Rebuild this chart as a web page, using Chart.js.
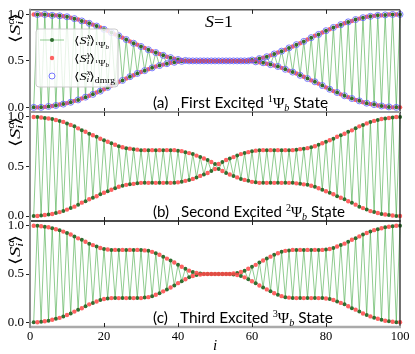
<!DOCTYPE html>
<html>
<head>
<meta charset="utf-8">
<script src="https://cdn.jsdelivr.net/npm/chart.js@4.4.1/dist/chart.umd.min.js"></script>
<style>
  html, body { margin: 0; padding: 0; background: #fff; }
  #wrap { position: relative; width: 415px; height: 354px; }
  #wrap canvas { position: absolute; left: 0; top: 0; }
</style>
</head>
<body>
<div id="wrap">
  <canvas id="panelA" width="415" height="354"></canvas>
  <canvas id="panelB" width="415" height="354"></canvas>
  <canvas id="panelC" width="415" height="354"></canvas>
</div>
<script>
// sites i = 1..100
const sites = Array.from({ length: 100 }, (_, k) => k + 1);
const xTicks = [0, 20, 40, 60, 80, 100];
const yTicks = [0, 0.5, 1.0];

// upper / lower envelopes (site 1..100)
const upperA = [
  1.00, 1.00, 1.00, 1.00, 0.995, 0.99, 0.99, 0.985, 0.98, 0.975,
  0.965, 0.955, 0.945, 0.93, 0.92, 0.905, 0.89, 0.875, 0.86, 0.84,
  0.825, 0.805, 0.785, 0.77, 0.75, 0.73, 0.71, 0.69, 0.675, 0.655,
  0.64, 0.62, 0.605, 0.59, 0.575, 0.56, 0.545, 0.535, 0.525, 0.515,
  0.51, 0.505, 0.50, 0.50, 0.50, 0.50, 0.50, 0.50, 0.50, 0.50,
  0.50, 0.50, 0.50, 0.50, 0.50, 0.50, 0.50, 0.50, 0.505, 0.51,
  0.515, 0.525, 0.535, 0.545, 0.56, 0.575, 0.59, 0.605, 0.62, 0.64,
  0.655, 0.675, 0.69, 0.71, 0.73, 0.75, 0.77, 0.785, 0.805, 0.825,
  0.84, 0.86, 0.875, 0.89, 0.905, 0.92, 0.93, 0.945, 0.955, 0.965,
  0.975, 0.98, 0.985, 0.99, 0.99, 0.995, 1.00, 1.00, 1.00, 1.00
];
const lowerA = [
  0.00, 0.00, 0.00, 0.005, 0.01, 0.015, 0.02, 0.03, 0.035, 0.045,
  0.055, 0.07, 0.08, 0.095, 0.11, 0.125, 0.14, 0.16, 0.175, 0.195,
  0.215, 0.235, 0.255, 0.275, 0.29, 0.31, 0.33, 0.345, 0.365, 0.38,
  0.395, 0.41, 0.425, 0.44, 0.45, 0.46, 0.47, 0.48, 0.485, 0.49,
  0.495, 0.50, 0.50, 0.50, 0.50, 0.50, 0.50, 0.50, 0.50, 0.50,
  0.50, 0.50, 0.50, 0.50, 0.50, 0.50, 0.50, 0.50, 0.50, 0.495,
  0.49, 0.485, 0.48, 0.47, 0.46, 0.45, 0.44, 0.425, 0.41, 0.395,
  0.38, 0.365, 0.345, 0.33, 0.31, 0.29, 0.275, 0.255, 0.235, 0.215,
  0.195, 0.175, 0.16, 0.14, 0.125, 0.11, 0.095, 0.08, 0.07, 0.055,
  0.045, 0.035, 0.03, 0.02, 0.015, 0.01, 0.005, 0.00, 0.00, 0.00
];
const upperB = [
  1.00, 1.00, 0.995, 0.99, 0.985, 0.98, 0.97, 0.96, 0.95, 0.935,
  0.92, 0.905, 0.885, 0.865, 0.85, 0.83, 0.815, 0.80, 0.78, 0.765,
  0.75, 0.735, 0.72, 0.705, 0.695, 0.685, 0.68, 0.675, 0.67, 0.665,
  0.665, 0.665, 0.665, 0.665, 0.665, 0.665, 0.665, 0.665, 0.665, 0.66,
  0.655, 0.645, 0.635, 0.625, 0.61, 0.595, 0.58, 0.565, 0.545, 0.525,
  0.525, 0.545, 0.565, 0.58, 0.595, 0.61, 0.625, 0.635, 0.645, 0.655,
  0.66, 0.665, 0.665, 0.665, 0.665, 0.665, 0.665, 0.665, 0.665, 0.665,
  0.665, 0.67, 0.675, 0.68, 0.685, 0.695, 0.705, 0.72, 0.735, 0.75,
  0.765, 0.78, 0.80, 0.815, 0.83, 0.85, 0.865, 0.885, 0.905, 0.92,
  0.935, 0.95, 0.96, 0.97, 0.98, 0.985, 0.99, 0.995, 1.00, 1.00
];
const lowerB = [
  0.00, 0.00, 0.005, 0.01, 0.015, 0.02, 0.03, 0.04, 0.05, 0.065,
  0.08, 0.095, 0.115, 0.135, 0.15, 0.17, 0.185, 0.20, 0.22, 0.235,
  0.25, 0.265, 0.28, 0.295, 0.305, 0.315, 0.32, 0.325, 0.33, 0.335,
  0.335, 0.335, 0.335, 0.335, 0.335, 0.335, 0.335, 0.335, 0.335, 0.34,
  0.345, 0.355, 0.365, 0.375, 0.39, 0.405, 0.42, 0.435, 0.455, 0.475,
  0.475, 0.455, 0.435, 0.42, 0.405, 0.39, 0.375, 0.365, 0.355, 0.345,
  0.34, 0.335, 0.335, 0.335, 0.335, 0.335, 0.335, 0.335, 0.335, 0.335,
  0.335, 0.33, 0.325, 0.32, 0.315, 0.305, 0.295, 0.28, 0.265, 0.25,
  0.235, 0.22, 0.20, 0.185, 0.17, 0.15, 0.135, 0.115, 0.095, 0.08,
  0.065, 0.05, 0.04, 0.03, 0.02, 0.015, 0.01, 0.005, 0.00, 0.00
];
const upperC = [
  1.00, 1.00, 0.995, 0.99, 0.985, 0.975, 0.965, 0.955, 0.94, 0.925,
  0.91, 0.89, 0.87, 0.855, 0.835, 0.815, 0.80, 0.785, 0.77, 0.76,
  0.755, 0.75, 0.75, 0.75, 0.75, 0.75, 0.75, 0.75, 0.75, 0.75,
  0.745, 0.74, 0.73, 0.715, 0.70, 0.68, 0.66, 0.64, 0.62, 0.595,
  0.575, 0.555, 0.535, 0.52, 0.51, 0.505, 0.50, 0.50, 0.50, 0.50,
  0.50, 0.50, 0.50, 0.50, 0.505, 0.51, 0.52, 0.535, 0.555, 0.575,
  0.595, 0.62, 0.64, 0.66, 0.68, 0.70, 0.715, 0.73, 0.74, 0.745,
  0.75, 0.75, 0.75, 0.75, 0.75, 0.75, 0.75, 0.75, 0.75, 0.755,
  0.76, 0.77, 0.785, 0.80, 0.815, 0.835, 0.855, 0.87, 0.89, 0.91,
  0.925, 0.94, 0.955, 0.965, 0.975, 0.985, 0.99, 0.995, 1.00, 1.00
];
const lowerC = [
  0.00, 0.00, 0.005, 0.01, 0.015, 0.025, 0.035, 0.045, 0.06, 0.075,
  0.09, 0.11, 0.13, 0.145, 0.165, 0.185, 0.20, 0.215, 0.23, 0.24,
  0.245, 0.25, 0.25, 0.25, 0.25, 0.25, 0.25, 0.25, 0.25, 0.25,
  0.255, 0.26, 0.27, 0.285, 0.30, 0.32, 0.34, 0.36, 0.38, 0.405,
  0.425, 0.445, 0.465, 0.48, 0.49, 0.495, 0.50, 0.50, 0.50, 0.50,
  0.50, 0.50, 0.50, 0.50, 0.495, 0.49, 0.48, 0.465, 0.445, 0.425,
  0.405, 0.38, 0.36, 0.34, 0.32, 0.30, 0.285, 0.27, 0.26, 0.255,
  0.25, 0.25, 0.25, 0.25, 0.25, 0.25, 0.25, 0.25, 0.25, 0.245,
  0.24, 0.23, 0.215, 0.20, 0.185, 0.165, 0.145, 0.13, 0.11, 0.09,
  0.075, 0.06, 0.045, 0.035, 0.025, 0.015, 0.01, 0.005, 0.00, 0.00
];

const SERIF = "'Liberation Serif', 'DejaVu Serif', serif";
const SANS = "Lato, 'DejaVu Sans', sans-serif";
const GREEN_LINE = 'rgba(70,170,70,0.6)';
const GREEN_DOT = '#2f6e2f';
const RED_DOT = 'rgba(255,70,70,0.85)';
const BLUE_RING = 'rgba(90,90,255,0.8)';

// S^x is low on odd sites and high on even sites, S^y the other way round
function pick(upper, lower, lowOnOdd) {
  return sites.map((s, k) => ({ x: s, y: ((s % 2 === 1) === lowOnOdd) ? lower[k] : upper[k] }));
}

// draws a row of text pieces {t, f, dy, adv, gap}; optionally squeezed to a width
function drawPieces(ctx, pieces, x, y, fitWidth) {
  let total = 0;
  pieces.forEach(p => {
    ctx.font = p.f;
    if (p.adv !== false) total += ctx.measureText(p.t).width + (p.gap || 0);
  });
  const sx = fitWidth ? fitWidth / total : 1;
  ctx.save();
  ctx.translate(x, y);
  ctx.scale(sx, 1);
  ctx.textAlign = 'left';
  ctx.textBaseline = 'alphabetic';
  let cx = 0;
  pieces.forEach(p => {
    ctx.font = p.f;
    ctx.fillText(p.t, cx, p.dy || 0);
    if (p.adv !== false) cx += ctx.measureText(p.t).width + (p.gap || 0);
  });
  ctx.restore();
  return total * sx;
}

function stateLabel(tag, word, sup) {
  return [
    { t: tag, f: '15px ' + SANS, gap: 8 },
    { t: ' ' + word + ' Excited ', f: '15px ' + SANS },
    { t: sup, f: '10px ' + SERIF, dy: -6 },
    { t: 'Ψ', f: '15px ' + SERIF },
    { t: 'b', f: 'italic 10px ' + SERIF, dy: 3 },
    { t: ' State', f: '15px ' + SANS }
  ];
}

function legendText(ctx, x, y, supTxt, tail, w) {
  const pieces = [
    { t: '⟨', f: '11px ' + SERIF },
    { t: 'S', f: 'italic 11px ' + SERIF },
    { t: supTxt, f: 'italic 7.5px ' + SERIF, dy: -4.5, adv: false },
    { t: 'i', f: 'italic 7.5px ' + SERIF, dy: 2.5 },
    { t: '⟩', f: '11px ' + SERIF }
  ].concat(tail);
  drawPieces(ctx, pieces, x, y + 3.5, w);
}

function drawLegend(ctx) {
  ctx.save();
  ctx.beginPath();
  ctx.roundRect(36, 29, 82, 58, 3);
  ctx.fillStyle = 'rgba(255,255,255,0.8)';
  ctx.fill();
  ctx.strokeStyle = 'rgba(200,200,200,0.9)';
  ctx.lineWidth = 1;
  ctx.stroke();
  // entry 1: line + marker
  ctx.strokeStyle = GREEN_LINE;
  ctx.beginPath(); ctx.moveTo(40, 40); ctx.lineTo(64, 40); ctx.stroke();
  ctx.fillStyle = GREEN_DOT;
  ctx.beginPath(); ctx.arc(52, 40, 2, 0, Math.PI * 2); ctx.fill();
  ctx.fillStyle = RED_DOT;
  ctx.beginPath(); ctx.arc(52, 58, 2.2, 0, Math.PI * 2); ctx.fill();
  ctx.strokeStyle = BLUE_RING;
  ctx.beginPath(); ctx.arc(52, 76, 3, 0, Math.PI * 2); ctx.stroke();
  ctx.fillStyle = '#000';
  const psiTail = [
    { t: '1', f: '5px ' + SERIF, dy: 1.5 },
    { t: 'Ψ', f: '7.5px ' + SERIF, dy: 4 },
    { t: 'b', f: 'italic 5.5px ' + SERIF, dy: 5.5 }
  ];
  legendText(ctx, 74, 40, 'x', psiTail, 35);
  legendText(ctx, 74, 58, 'y', psiTail, 35);
  legendText(ctx, 74, 76, 'x', [{ t: 'dmrg', f: '7.5px ' + SERIF, dy: 3.5 }], 41);
  ctx.restore();
}

const panels = [
  { id: 'panelA', top: 5, bottom: 112, upper: upperA, lower: lowerA, dmrg: true,
    tag: '(a)', word: 'First', sup: '1', labelW: 175, yLabelY: 28,
    topLine: ['#555', 1.5], bottomLine: ['#999', 2] },
  { id: 'panelB', top: 112, bottom: 221, upper: upperB, lower: lowerB, dmrg: false,
    tag: '(b)', word: 'Second', sup: '2', labelW: 192, yLabelY: 132,
    topLine: ['#999', 2], bottomLine: ['#111', 1.2] },
  { id: 'panelC', top: 221, bottom: 327, upper: upperC, lower: lowerC, dmrg: false,
    tag: '(c)', word: 'Third', sup: '3', labelW: 180, yLabelY: 250,
    topLine: ['#111', 1.2], bottomLine: ['#aaa', 2.5], last: true }
];

function makePanel(p) {
  const sx = pick(p.upper, p.lower, true);
  const sy = pick(p.upper, p.lower, false);
  const datasets = [
    { label: 'Sx', data: sx, showLine: true, borderColor: GREEN_LINE, borderWidth: 1,
      pointRadius: 2, pointBackgroundColor: GREEN_DOT, pointBorderWidth: 0, order: 3, clip: false },
    { label: 'Sy', data: sy, showLine: false, pointRadius: 2.2,
      pointBackgroundColor: RED_DOT, pointBorderWidth: 0, order: 2, clip: false }
  ];
  if (p.dmrg) {
    datasets.push({ label: 'dmrg', data: sx, showLine: false, pointRadius: 3,
      pointBackgroundColor: 'rgba(0,0,0,0)', pointBorderColor: BLUE_RING,
      pointBorderWidth: 1, order: 1, clip: false });
  }

  const decor = {
    id: 'decor' + p.id,
    afterDraw(chart) {
      const ctx = chart.ctx;
      const a = chart.chartArea;
      const xs = chart.scales.x;
      ctx.save();
      // frame
      ctx.lineCap = 'butt';
      ctx.strokeStyle = '#111'; ctx.lineWidth = 1.2;
      ctx.beginPath(); ctx.moveTo(a.right, a.top); ctx.lineTo(a.right, a.bottom); ctx.stroke();
      ctx.strokeStyle = p.topLine[0]; ctx.lineWidth = p.topLine[1];
      ctx.beginPath(); ctx.moveTo(a.left, a.top); ctx.lineTo(a.right, a.top); ctx.stroke();
      ctx.strokeStyle = p.bottomLine[0]; ctx.lineWidth = p.bottomLine[1];
      ctx.beginPath(); ctx.moveTo(a.left, a.bottom); ctx.lineTo(a.right + 1, a.bottom); ctx.stroke();
      ctx.strokeStyle = '#8c8c8c'; ctx.lineWidth = 2;
      ctx.beginPath(); ctx.moveTo(a.left, a.top - 1); ctx.lineTo(a.left, a.bottom + 1); ctx.stroke();
      // inward x ticks
      ctx.strokeStyle = '#222'; ctx.lineWidth = 1;
      xTicks.forEach(v => {
        const px = Math.round(xs.getPixelForValue(v)) + 0.5;
        if (v === 0 || v === 100) return;
        ctx.beginPath(); ctx.moveTo(px, a.top); ctx.lineTo(px, a.top + 4); ctx.stroke();
        ctx.beginPath(); ctx.moveTo(px, a.bottom); ctx.lineTo(px, a.bottom - 4); ctx.stroke();
      });
      ctx.fillStyle = '#000';
      // state label
      drawPieces(ctx, stateLabel(p.tag, p.word, p.sup), 153, a.bottom - 4, p.labelW);
      // y label
      ctx.save();
      ctx.translate(14.5, p.yLabelY);
      ctx.rotate(-Math.PI / 2);
      const yl = [
        { t: '⟨', f: '15px ' + SERIF },
        { t: 'S', f: 'italic 15px ' + SERIF },
        { t: 'α', f: 'italic 10px ' + SERIF, dy: -6, adv: false },
        { t: 'i', f: 'italic 10px ' + SERIF, dy: 3 },
        { t: '⟩', f: '15px ' + SERIF }
      ];
      drawPieces(ctx, yl, -15, 5, 30);
      ctx.restore();
      if (p.dmrg) {
        drawPieces(ctx, [
          { t: 'S', f: 'italic 16px ' + SERIF },
          { t: '=1', f: '16px ' + SERIF }
        ], 205, 26.5, 28);
        drawLegend(ctx);
      }
      if (p.last) {
        ctx.font = 'italic 15px ' + SERIF;
        ctx.textAlign = 'center';
        ctx.fillText('i', (a.left + a.right) / 2, 350);
      }
      ctx.restore();
    }
  };

  return new Chart(document.getElementById(p.id), {
    type: 'scatter',
    data: { datasets },
    options: {
      responsive: false,
      animation: false,
      events: [],
      layout: { padding: { left: 0, right: 15, top: p.top, bottom: p.last ? 0 : 354 - p.bottom } },
      plugins: { legend: { display: false }, tooltip: { enabled: false } },
      scales: {
        x: {
          type: 'linear', min: 0, max: 100,
          afterBuildTicks: s => { s.ticks = xTicks.map(v => ({ value: v })); },
          ticks: { display: !!p.last, padding: 2, maxRotation: 0, color: '#000',
                   font: { family: SERIF, size: 12.5 } },
          grid: { display: false, drawTicks: false },
          border: { display: false },
          afterFit: s => { s.height = p.last ? 27 : 0; }
        },
        y: {
          min: -0.05, max: 1.05,
          afterBuildTicks: s => { s.ticks = yTicks.map(v => ({ value: v })); },
          ticks: { padding: 2, color: '#000', callback: v => v.toFixed(1),
                   font: { family: SERIF, size: 13 } },
          grid: { display: true, drawOnChartArea: false, drawTicks: true, tickLength: 4,
                  color: '#222', lineWidth: 1 },
          border: { display: false },
          afterFit: s => { s.width = 30; }
        }
      }
    },
    plugins: [decor]
  });
}

panels.forEach(makePanel);
</script>
</body>
</html>
